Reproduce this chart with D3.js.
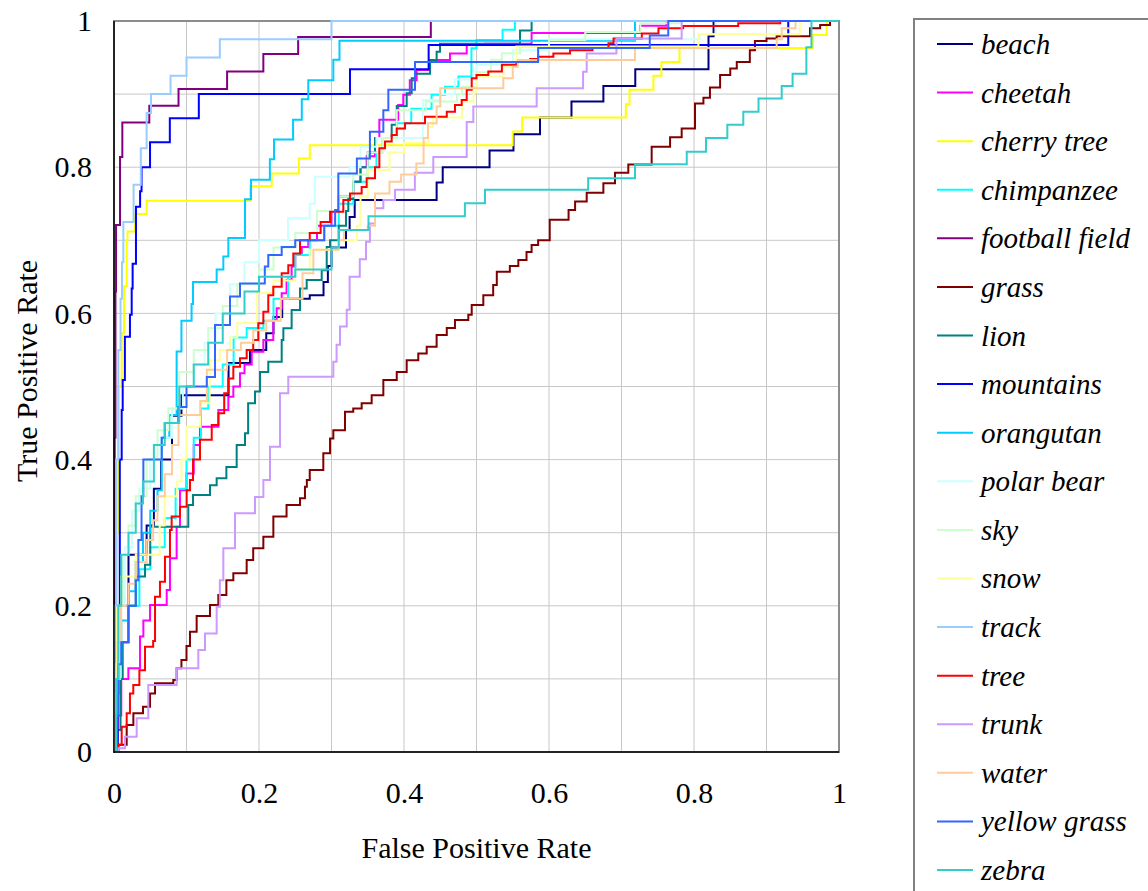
<!DOCTYPE html>
<html>
<head>
<meta charset="utf-8">
<script src="https://cdn.jsdelivr.net/npm/d3@7"></script>
<style>
  html, body { margin: 0; padding: 0; background: #fff; }
  svg { display: block; }
  text { font-family: "Liberation Serif", "Times New Roman", serif; fill: #000; }
</style>
</head>
<body>
<svg id="chart" width="1148" height="891"></svg>
<script>
// ---------- data (FPR, TPR) ----------
const seriesNames = ["beach","cheetah","cherry tree","chimpanzee","football field","grass","lion","mountains","orangutan","polar bear","sky","snow","track","tree","trunk","water","yellow grass","zebra"];
const seriesColors = ["#000080","#ff00ff","#ffff00","#00ffff","#800080","#800000","#008080","#0000ff","#00ccff","#ccffff","#ccffcc","#ffff99","#99ccff","#ff0000","#cc99ff","#ffcc99","#3366ff","#33cccc"];
const xTicks = [0, 0.2, 0.4, 0.6, 0.8, 1];
const yTicks = [0, 0.2, 0.4, 0.6, 0.8, 1];
const gridValues = [0.1,0.2,0.3,0.4,0.5,0.6,0.7,0.8,0.9];

const beach = [[0,0],[0.003,0.1],[0.008,0.2],[0.02,0.27],[0.045,0.31],[0.055,0.36],[0.065,0.4],[0.08,0.46],[0.093,0.488],[0.158,0.532],[0.1876,0.55],[0.21,0.573],[0.22,0.595],[0.232,0.62],[0.27,0.625],[0.289,0.643],[0.295,0.665],[0.30,0.69],[0.32,0.714],[0.325,0.732],[0.332,0.755],[0.445,0.779],[0.4534,0.80],[0.518,0.823],[0.551,0.845],[0.5876,0.868],[0.631,0.89],[0.675,0.911],[0.719,0.934],[0.82,0.979],[0.827,1],[1,1]];
const cheetah = [[0,0],[0.005,0.05],[0.01,0.1],[0.0198,0.1145],[0.0359,0.158],[0.0405,0.18],[0.0497,0.201],[0.0727,0.2216],[0.0772,0.265],[0.0864,0.308],[0.091,0.358],[0.1,0.381],[0.11,0.42],[0.1186,0.445],[0.144,0.468],[0.1577,0.486],[0.1646,0.50],[0.1738,0.518],[0.18,0.53],[0.19,0.5476],[0.206,0.5636],[0.2197,0.591],[0.2244,0.607],[0.2313,0.6275],[0.238,0.6457],[0.245,0.664],[0.25,0.68],[0.259,0.691],[0.268,0.70],[0.28,0.72],[0.3,0.74],[0.31,0.76],[0.33,0.78],[0.34,0.80],[0.3485,0.815],[0.36,0.84],[0.366,0.865],[0.392,0.885],[0.399,0.899],[0.408,0.919],[0.4175,0.933],[0.436,0.9466],[0.4634,0.9557],[0.4865,0.967],[0.5117,0.969],[0.576,0.9836],[0.7255,0.9936],[0.762,1],[1,1]];
const cherryTree = [[0,0],[0.002,0.15],[0.004,0.3],[0.006,0.5],[0.0106,0.573],[0.0138,0.637],[0.0175,0.70],[0.0186,0.712],[0.029,0.736],[0.045,0.754],[0.1876,0.774],[0.2175,0.7915],[0.255,0.812],[0.270,0.830],[0.55,0.849],[0.563,0.868],[0.706,0.886],[0.711,0.906],[0.744,0.925],[0.755,0.944],[0.78,0.963],[0.964,0.981],[0.983,1],[1,1]];
const chimpanzee = [[0,0],[0.003,0.08],[0.008,0.15],[0.02,0.2],[0.035,0.25],[0.05,0.28],[0.07,0.32],[0.085,0.36],[0.1,0.40],[0.11,0.43],[0.12,0.47],[0.13,0.50],[0.15,0.53],[0.165,0.567],[0.183,0.58],[0.206,0.59],[0.22,0.62],[0.24,0.65],[0.25,0.68],[0.27,0.70],[0.29,0.72],[0.31,0.75],[0.33,0.78],[0.35,0.80],[0.362,0.82],[0.37,0.84],[0.39,0.86],[0.41,0.88],[0.438,0.899],[0.4566,0.91],[0.475,0.924],[0.493,0.9626],[0.5,0.974],[0.536,0.988],[0.553,1],[1,1]];
const footballField = [[0,0],[0.001,0.43],[0.002,0.63],[0.0028,0.721],[0.0083,0.814],[0.0115,0.861],[0.0487,0.884],[0.089,0.907],[0.156,0.931],[0.206,0.955],[0.254,0.978],[0.437,1],[1,1]];
const grass = [[0,0],[0.006,0.01],[0.0175,0.037],[0.0267,0.053],[0.040,0.062],[0.0497,0.080],[0.0566,0.094],[0.0818,0.0985],[0.0864,0.1145],[0.093,0.126],[0.1,0.145],[0.1048,0.1646],[0.114,0.186],[0.1324,0.201],[0.1439,0.2148],[0.155,0.235],[0.1646,0.2445],[0.183,0.2627],[0.192,0.2786],[0.206,0.2946],[0.2198,0.322],[0.238,0.338],[0.2566,0.347],[0.2634,0.363],[0.266,0.372],[0.27,0.3858],[0.2887,0.4086],[0.298,0.429],[0.3025,0.44],[0.3186,0.4655],[0.33,0.47],[0.3416,0.477],[0.3554,0.488],[0.3715,0.509],[0.39,0.52],[0.4037,0.536],[0.4197,0.545],[0.4313,0.5545],[0.445,0.5705],[0.459,0.58],[0.4703,0.591],[0.4887,0.598],[0.4934,0.6115],[0.5094,0.625],[0.523,0.639],[0.528,0.657],[0.546,0.665],[0.5577,0.673],[0.569,0.684],[0.576,0.6935],[0.585,0.70],[0.601,0.728],[0.627,0.7415],[0.636,0.753],[0.652,0.765],[0.675,0.778],[0.691,0.7925],[0.7094,0.8036],[0.7416,0.828],[0.767,0.841],[0.783,0.853],[0.8014,0.887],[0.813,0.895],[0.822,0.909],[0.836,0.926],[0.85,0.935],[0.859,0.944],[0.877,0.96],[0.884,0.9726],[0.90,0.976],[0.914,0.979],[0.96,0.99],[0.974,0.9945],[0.9876,1],[1,1]];
const lion = [[0,0],[0.005,0.03],[0.009,0.1],[0.012,0.15],[0.02,0.2],[0.03,0.24],[0.0428,0.256],[0.05,0.308],[0.1025,0.338],[0.109,0.3516],[0.1324,0.365],[0.1416,0.3744],[0.155,0.39],[0.1692,0.42],[0.1807,0.436],[0.185,0.477],[0.1945,0.493],[0.2014,0.52],[0.2128,0.534],[0.2313,0.5636],[0.2336,0.5796],[0.245,0.6047],[0.2566,0.634],[0.2658,0.6457],[0.2865,0.659],[0.2934,0.691],[0.298,0.70],[0.31,0.72],[0.32,0.74],[0.3232,0.7565],[0.33,0.78],[0.34,0.80],[0.35,0.82],[0.36,0.84],[0.383,0.858],[0.39,0.8837],[0.4037,0.901],[0.4106,0.9216],[0.4152,0.928],[0.4359,0.9466],[0.445,0.958],[0.4497,0.969],[0.56,0.987],[0.576,1],[1,1]];
const mountains = [[0,0],[0.005,0.2],[0.008,0.40],[0.0106,0.468],[0.012,0.509],[0.015,0.568],[0.022,0.598],[0.0244,0.634],[0.0257,0.668],[0.0303,0.746],[0.036,0.767],[0.038,0.80],[0.0497,0.834],[0.077,0.867],[0.117,0.900],[0.3255,0.934],[0.434,0.967],[0.93,1],[1,1]];
const orangutan = [[0,0],[0.002,0.05],[0.005,0.12],[0.01,0.18],[0.02,0.22],[0.03,0.26],[0.04,0.3],[0.05,0.33],[0.06,0.358],[0.0658,0.43],[0.0763,0.461],[0.0864,0.548],[0.093,0.59],[0.107,0.613],[0.109,0.643],[0.1416,0.66],[0.1508,0.678],[0.1577,0.703],[0.1807,0.756],[0.189,0.783],[0.215,0.811],[0.2207,0.838],[0.247,0.865],[0.259,0.893],[0.268,0.919],[0.3025,0.947],[0.311,0.973],[0.7186,1],[1,1]];
const polarBear = [[0,0],[0.003,0.1],[0.008,0.2],[0.015,0.28],[0.025,0.33],[0.035,0.36],[0.05,0.4],[0.065,0.43],[0.08,0.47],[0.095,0.5],[0.11,0.53],[0.125,0.56],[0.14,0.6],[0.16,0.64],[0.18,0.67],[0.2,0.7],[0.24,0.73],[0.27,0.75],[0.277,0.787],[0.325,0.80],[0.34,0.828],[0.362,0.84],[0.426,0.892],[0.45,0.9],[0.47,0.92],[0.5,0.94],[0.55,0.96],[0.6,0.975],[0.808,0.982],[0.83,1],[1,1]];
const sky = [[0,0],[0.003,0.12],[0.007,0.2],[0.012,0.27],[0.02,0.31],[0.03,0.35],[0.045,0.4],[0.06,0.44],[0.075,0.47],[0.09,0.52],[0.11,0.55],[0.13,0.58],[0.15,0.61],[0.17,0.64],[0.2,0.66],[0.22,0.69],[0.25,0.71],[0.28,0.74],[0.31,0.76],[0.33,0.79],[0.35,0.82],[0.37,0.84],[0.39,0.878],[0.43,0.89],[0.473,0.90],[0.48,0.91],[0.5,0.93],[0.52,0.947],[0.535,0.956],[0.56,0.964],[0.6,0.974],[0.65,0.985],[0.726,0.997],[0.78,1],[1,1]];
const snow = [[0,0],[0.002,0.11],[0.004,0.2],[0.01,0.24],[0.03,0.27],[0.063,0.31],[0.07,0.35],[0.087,0.37],[0.093,0.40],[0.1,0.445],[0.119,0.477],[0.132,0.536],[0.146,0.55],[0.16,0.567],[0.17,0.587],[0.197,0.628],[0.22,0.645],[0.25,0.66],[0.27,0.687],[0.31,0.70],[0.335,0.72],[0.34,0.76],[0.35,0.796],[0.38,0.82],[0.4,0.833],[0.433,0.855],[0.44,0.868],[0.48,0.89],[0.496,0.903],[0.5,0.924],[0.537,0.937],[0.555,0.965],[0.806,0.982],[0.946,1],[1,1]];
const track = [[0,0],[0.001,0.2],[0.003,0.4],[0.006,0.55],[0.009,0.62],[0.011,0.67],[0.0129,0.725],[0.027,0.776],[0.037,0.826],[0.045,0.874],[0.051,0.900],[0.078,0.925],[0.100,0.950],[0.146,0.975],[0.300,1],[1,1]];
const tree = [[0,0],[0.006,0.01],[0.0106,0.0346],[0.0175,0.053],[0.022,0.080],[0.0266,0.0917],[0.035,0.112],[0.0428,0.144],[0.054,0.152],[0.0566,0.2125],[0.0634,0.233],[0.0703,0.267],[0.0772,0.3037],[0.0795,0.322],[0.091,0.3356],[0.1002,0.358],[0.1048,0.372],[0.109,0.40],[0.1186,0.427],[0.1348,0.4473],[0.144,0.4633],[0.152,0.4907],[0.1577,0.511],[0.1646,0.527],[0.1738,0.5386],[0.183,0.55],[0.192,0.5636],[0.199,0.5865],[0.206,0.6023],[0.2128,0.625],[0.2197,0.6365],[0.2313,0.6548],[0.2404,0.666],[0.2473,0.682],[0.2566,0.70],[0.27,0.71],[0.285,0.725],[0.298,0.739],[0.3163,0.755],[0.3255,0.764],[0.3416,0.773],[0.3485,0.785],[0.36,0.80],[0.366,0.826],[0.3738,0.835],[0.383,0.844],[0.39,0.853],[0.4014,0.86],[0.429,0.869],[0.459,0.876],[0.4703,0.885],[0.4796,0.892],[0.4865,0.906],[0.4934,0.9216],[0.50,0.926],[0.5163,0.931],[0.535,0.94],[0.555,0.944],[0.574,0.948],[0.585,0.951],[0.606,0.9557],[0.629,0.96],[0.66,0.963],[0.682,0.9695],[0.689,0.976],[0.728,0.983],[0.751,0.99],[0.785,0.993],[0.861,0.997],[0.919,1],[1,1]];
const trunk = [[0,0],[0.006,0.005],[0.0152,0.021],[0.0313,0.046],[0.0473,0.0917],[0.0864,0.1145],[0.1163,0.1395],[0.1255,0.162],[0.1416,0.1988],[0.146,0.235],[0.1508,0.2786],[0.1669,0.3265],[0.1945,0.349],[0.206,0.372],[0.2152,0.4177],[0.229,0.4907],[0.2404,0.5134],[0.3025,0.534],[0.307,0.557],[0.3117,0.582],[0.321,0.605],[0.325,0.65],[0.339,0.674],[0.3476,0.698],[0.353,0.723],[0.36,0.7437],[0.3715,0.755],[0.3876,0.769],[0.415,0.7925],[0.4404,0.814],[0.4865,0.862],[0.4956,0.883],[0.583,0.908],[0.647,0.9306],[0.652,0.9557],[0.693,0.976],[0.783,1],[1,1]];
const water = [[0,0],[0.002,0.08],[0.005,0.15],[0.01,0.2],[0.02,0.23],[0.03,0.26],[0.045,0.29],[0.054,0.317],[0.06,0.35],[0.07,0.38],[0.08,0.42],[0.089,0.461],[0.119,0.48],[0.128,0.523],[0.156,0.55],[0.175,0.56],[0.192,0.577],[0.21,0.59],[0.23,0.62],[0.26,0.655],[0.275,0.687],[0.31,0.70],[0.317,0.714],[0.35,0.72],[0.36,0.764],[0.38,0.78],[0.396,0.79],[0.417,0.805],[0.427,0.84],[0.433,0.86],[0.445,0.883],[0.45,0.908],[0.537,0.9216],[0.55,0.9375],[0.557,0.9466],[0.7186,0.963],[0.914,0.975],[0.921,0.99],[0.94,1],[1,1]];
const yellowGrass = [[0,0],[0.003,0.05],[0.006,0.12],[0.01,0.15],[0.0198,0.2],[0.03,0.235],[0.0336,0.29],[0.038,0.35],[0.0405,0.40],[0.0658,0.43],[0.07,0.45],[0.0887,0.472],[0.1,0.50],[0.128,0.513],[0.1393,0.584],[0.16,0.623],[0.1738,0.641],[0.208,0.664],[0.2128,0.68],[0.2313,0.691],[0.25,0.70],[0.29,0.72],[0.305,0.7415],[0.3094,0.7915],[0.335,0.812],[0.353,0.8486],[0.3715,0.878],[0.3784,0.906],[0.4152,0.944],[0.585,0.963],[0.739,0.98],[0.7645,1],[1,1]];
const zebra = [[0,0],[0.003,0.1],[0.006,0.2],[0.01,0.27],[0.02,0.3],[0.03,0.34],[0.04,0.37],[0.055,0.42],[0.07,0.45],[0.09,0.5],[0.11,0.53],[0.13,0.56],[0.15,0.6],[0.18,0.63],[0.2,0.65],[0.25,0.66],[0.3,0.69],[0.31,0.714],[0.351,0.733],[0.484,0.7506],[0.5117,0.769],[0.654,0.785],[0.7186,0.804],[0.79,0.821],[0.8166,0.84],[0.846,0.858],[0.868,0.876],[0.889,0.894],[0.921,0.911],[0.936,0.928],[0.955,0.964],[0.962,1],[1,1]];

const seriesData = [beach, cheetah, cherryTree, chimpanzee, footballField, grass, lion, mountains, orangutan, polarBear, sky, snow, track, tree, trunk, water, yellowGrass, zebra];

// ---------- layout ----------
const FONT = "'Liberation Serif', 'Times New Roman', serif";
const svg = d3.select("#chart");
const plot = { left: 114, top: 21, right: 839, bottom: 752 };
const x = d3.scaleLinear().domain([0, 1]).range([plot.left, plot.right]);
const y = d3.scaleLinear().domain([0, 1]).range([plot.bottom, plot.top]);

// gridlines
const grid = svg.append("g");
grid.selectAll("line.v").data(gridValues).join("line")
  .attr("x1", d => x(d)).attr("x2", d => x(d))
  .attr("y1", plot.top).attr("y2", plot.bottom)
  .attr("stroke", "#c8c8c8").attr("stroke-width", 1);
grid.selectAll("line.h").data(gridValues).join("line")
  .attr("x1", plot.left).attr("x2", plot.right)
  .attr("y1", d => y(d)).attr("y2", d => y(d))
  .attr("stroke", "#c8c8c8").attr("stroke-width", 1);

// frame
svg.append("rect")
  .attr("x", plot.left).attr("y", plot.top)
  .attr("width", plot.right - plot.left).attr("height", plot.bottom - plot.top)
  .attr("fill", "none").attr("stroke", "#8c8c8c").attr("stroke-width", 2);

// series lines
const line = d3.line().x(d => x(d[0])).y(d => y(d[1])).curve(d3.curveStepAfter);
const lines = svg.append("g");
seriesData.forEach((data, i) => {
  lines.append("path")
    .datum(data)
    .attr("d", line)
    .attr("fill", "none")
    .attr("stroke", seriesColors[i])
    .attr("stroke-width", 2)
    .attr("stroke-linejoin", "miter");
});

// axes lines (left & bottom dark)
svg.append("line").attr("x1", plot.left).attr("x2", plot.left).attr("y1", plot.top).attr("y2", plot.bottom + 1)
  .attr("stroke", "#000").attr("stroke-width", 1.5);
svg.append("line").attr("x1", plot.left).attr("x2", plot.right).attr("y1", plot.bottom).attr("y2", plot.bottom)
  .attr("stroke", "#000").attr("stroke-width", 1.5);

// axes (text only, via d3 axis)
const fmt = d => (d === 0 || d === 1) ? String(d) : d.toFixed(1);
const xAxis = svg.append("g").attr("transform", `translate(0,${plot.bottom + 30})`)
  .call(d3.axisBottom(x).tickValues(xTicks).tickFormat(fmt).tickSize(0).tickPadding(0));
xAxis.select(".domain").remove();
xAxis.attr("font-family", null);
xAxis.selectAll("text").attr("font-size", 30).style("font-family", FONT).attr("dy", "0.71em").attr("fill", "#000");

const yAxis = svg.append("g").attr("transform", `translate(${plot.left - 22},0)`)
  .call(d3.axisLeft(y).tickValues(yTicks).tickFormat(fmt).tickSize(0).tickPadding(0));
yAxis.select(".domain").remove();
yAxis.attr("font-family", null);
yAxis.selectAll("text").attr("font-size", 30).style("font-family", FONT).attr("fill", "#000");

// titles
svg.append("text").attr("x", (plot.left + plot.right) / 2).attr("y", 858)
  .attr("text-anchor", "middle").attr("font-size", 30).style("font-family", FONT).text("False Positive Rate");
svg.append("text").attr("transform", "translate(37,371) rotate(-90)")
  .attr("text-anchor", "middle").attr("font-size", 30).style("font-family", FONT).text("True Positive Rate");

// legend
const lg = svg.append("g");
lg.append("rect").attr("x", 914).attr("y", 19).attr("width", 260).attr("height", 900)
  .attr("fill", "#fff").attr("stroke", "#808080").attr("stroke-width", 2);
const ly = d3.scaleLinear().domain([0, seriesNames.length - 1]).range([44, 870]);
seriesNames.forEach((name, i) => {
  lg.append("line").attr("x1", 937).attr("x2", 973).attr("y1", ly(i)).attr("y2", ly(i))
    .attr("stroke", seriesColors[i]).attr("stroke-width", 2);
  lg.append("text").attr("x", 981).attr("y", ly(i) + 10)
    .attr("font-size", 29).attr("font-style", "italic").style("font-family", FONT).text(name);
});
</script>
</body>
</html>
